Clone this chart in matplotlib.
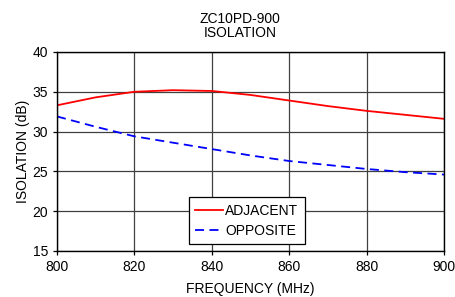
import numpy as np
import matplotlib
matplotlib.use("Agg")
from matplotlib import pyplot as plt

plt.rcParams['font.family'] = ['Liberation Sans', 'DejaVu Sans']

# Frequency points (MHz) and isolation (dB)
freq = [800, 810, 820, 830, 840, 850, 860, 870, 880, 890, 900]
adjacent = [33.3, 34.3, 35.0, 35.2, 35.1, 34.6, 33.9, 33.2, 32.6, 32.1, 31.6]
opposite = [31.9, 30.6, 29.4, 28.6, 27.8, 27.0, 26.3, 25.8, 25.3, 24.9, 24.6]

fig = plt.figure(figsize=(4.56, 2.97), dpi=100)
ax = fig.add_axes([0.125, 0.155, 0.849, 0.67])

ax.plot(freq, adjacent, color='red', lw=1.3, label='ADJACENT')
ax.plot(freq, opposite, color='blue', lw=1.3, ls=(0, (5, 3)), label='OPPOSITE')

ax.set_xlim(800, 900)
ax.set_ylim(15, 40)
ax.set_xticks(np.arange(800, 901, 20))
ax.set_yticks(np.arange(15, 41, 5))
ax.grid(True, color='#404040', lw=0.9)
ax.tick_params(labelsize=10, length=3, width=0.9, direction='out')
for s in ax.spines.values():
    s.set_linewidth(1.0)

ax.set_xlabel('FREQUENCY (MHz)', fontsize=10, labelpad=6)
ax.set_ylabel('ISOLATION (dB)', fontsize=10, labelpad=2)
fig.text(240 / 456, 1 - 26 / 297, 'ZC10PD-900\nISOLATION', fontsize=10,
         ha='center', va='center', linespacing=1.0)

leg = ax.legend(loc='lower center', bbox_to_anchor=(0.49, 0.0), fontsize=10,
                frameon=True, fancybox=False, edgecolor='black', framealpha=1,
                handlelength=2.0, handletextpad=0.2, borderpad=0.45, labelspacing=0.45)
leg.get_frame().set_linewidth(0.9)

fig.savefig('out.png', dpi=100)
